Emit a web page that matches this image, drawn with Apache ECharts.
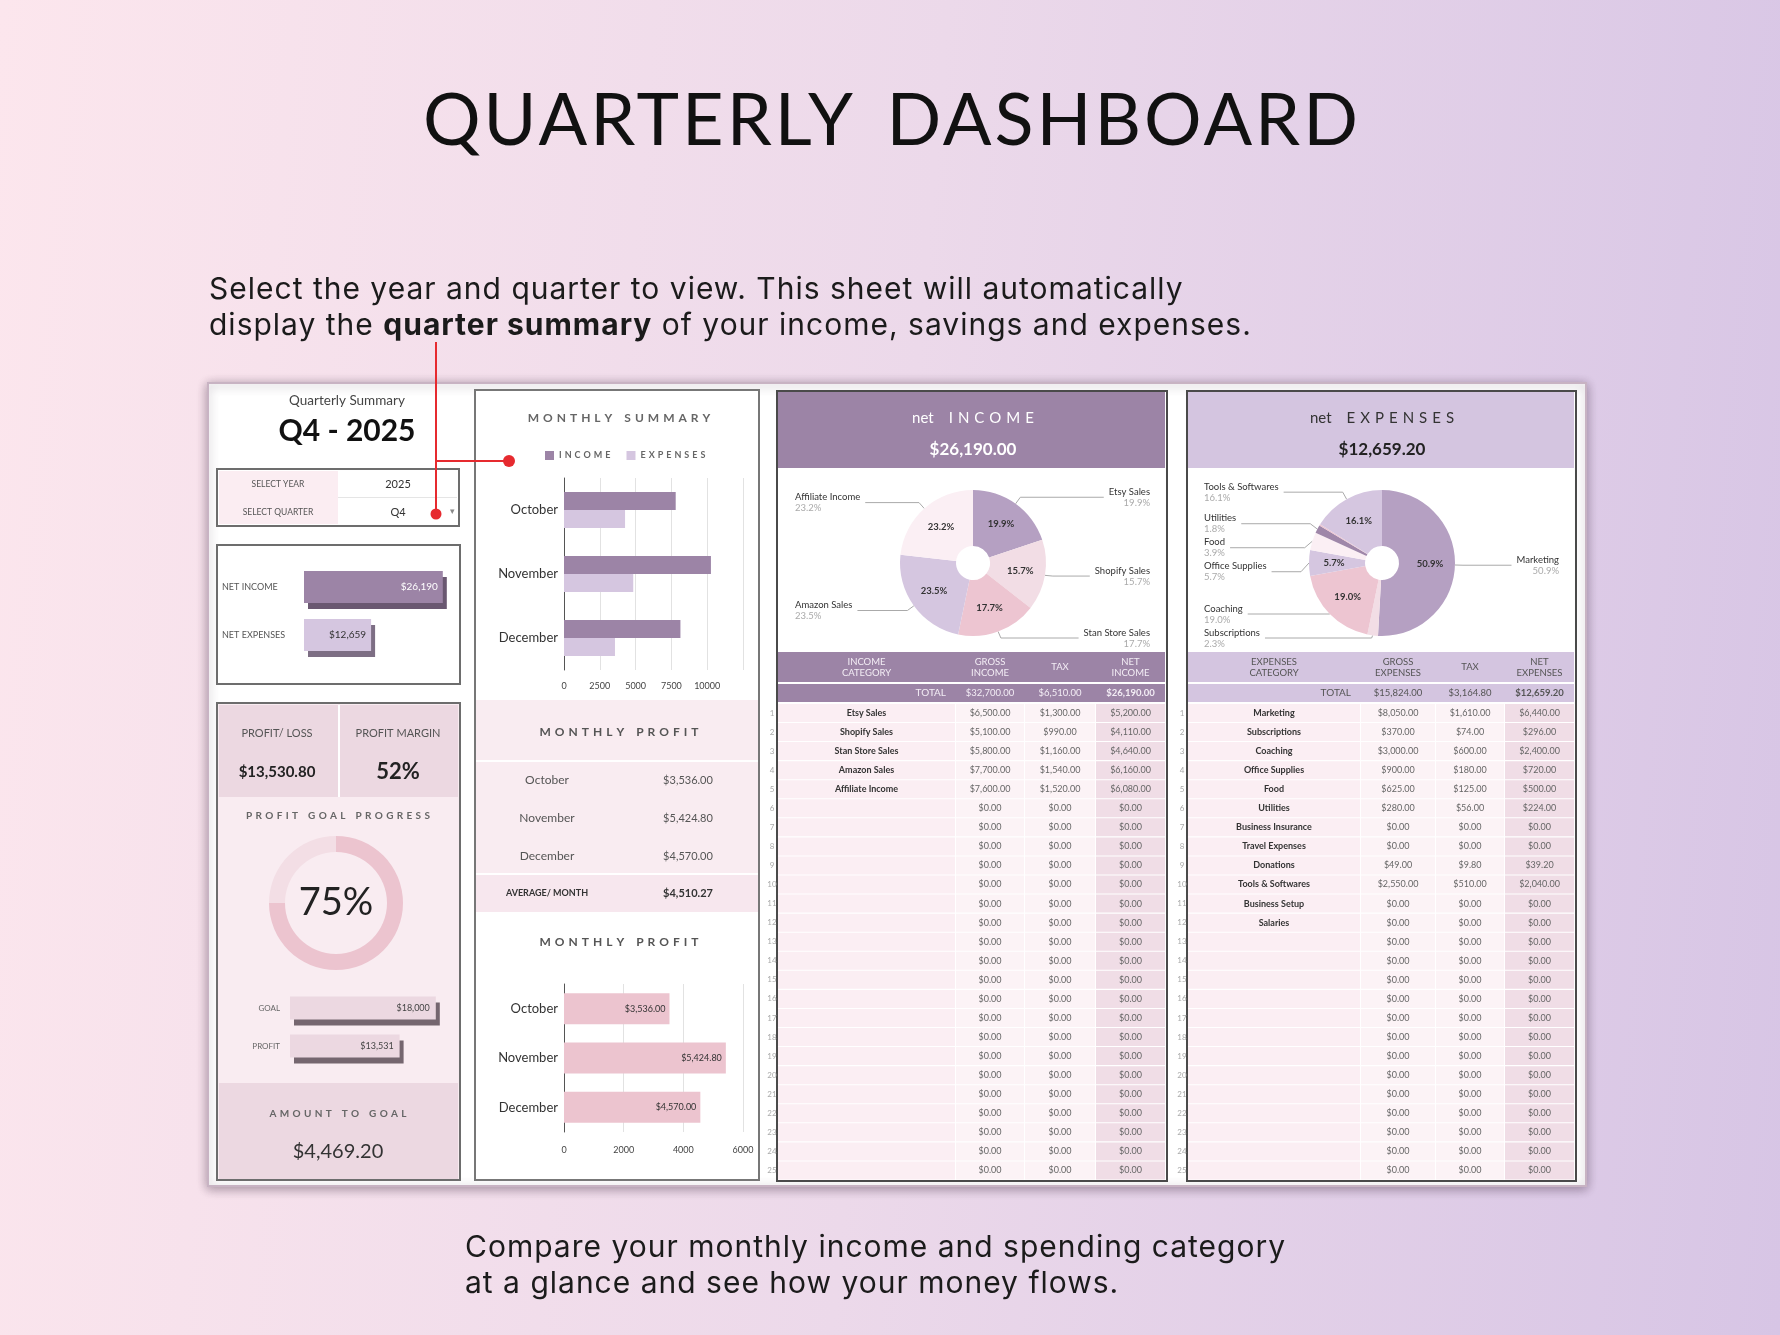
<!DOCTYPE html>
<html>
<head>
<meta charset="utf-8">
<title>Quarterly Dashboard</title>
<script src="https://cdn.jsdelivr.net/npm/echarts@6/dist/echarts.min.js"></script>
<style>
  html, body { margin: 0; padding: 0; }
  body {
    width: 1780px; height: 1335px; overflow: hidden; position: relative;
    background: linear-gradient(95deg, #fce6ed 0%, #ecd9ea 50%, #d7c5e5 100%);
  }
  #chart { position: absolute; left: 0; top: 0; width: 1780px; height: 1335px; }
  .title {
    position: absolute; left: 0; width: 1784px; top: 81px; text-align: center;
    font: 400 72px/72px Lato; letter-spacing: 3px; word-spacing: 12px; color: #111;
  }
  .cap { position: absolute; font: 400 30px/36px Inter; letter-spacing: 1px; color: #1b1b1b; white-space: nowrap; }
  .cap b { font-weight: 700; }
</style>
</head>
<body>
<div id="chart"></div>
<div class="title">QUARTERLY DASHBOARD</div>
<div class="cap" style="left:209px; top:270px">Select the year and quarter to view. This sheet will automatically<br>display the <b>quarter summary</b> of your income, savings and expenses.</div>
<div class="cap" style="left:465px; top:1228px">Compare your monthly income and spending category<br>at a glance and see how your money flows.</div>

<script>
// ---- data ----
var months = ['October', 'November', 'December'];
var monthlyIncome = [7800, 10260, 8130];
var monthlyExpenses = [4264, 4835.2, 3560];
var monthlyProfit = [3536, 5424.8, 4570];

var netLabels = ['NET INCOME', 'NET EXPENSES'];
var netValues = [26190, 12659.2];

var goalLabels = ['GOAL', 'PROFIT'];
var goalValues = [18000, 13530.8];
var goalProgress = [75, 25];
var profitMargin = '52%';
var amountToGoal = 4469.2;

var incomeCategories = ['Etsy Sales', 'Shopify Sales', 'Stan Store Sales', 'Amazon Sales', 'Affiliate Income'];
var incomeGross = [6500, 5100, 5800, 7700, 7600];
var incomeTax = [1300, 990, 1160, 1540, 1520];
var incomeNet = [5200, 4110, 4640, 6160, 6080];

var expenseCategories = ['Marketing', 'Subscriptions', 'Coaching', 'Office Supplies', 'Food', 'Utilities',
  'Business Insurance', 'Travel Expenses', 'Donations', 'Tools & Softwares', 'Business Setup', 'Salaries'];
var expenseGross = [8050, 370, 3000, 900, 625, 280, 0, 0, 49, 2550, 0, 0];
var expenseTax = [1610, 74, 600, 180, 125, 56, 0, 0, 9.8, 510, 0, 0];
var expenseNet = [6440, 296, 2400, 720, 500, 224, 0, 0, 39.2, 2040, 0, 0];

var tableRows = 25;
var pieColors = ['#b5a0c2', '#f2dde5', '#edc5d1', '#d5c6e0', '#fbeff4', '#9f87a9'];

// ---- helpers ----
function money(v) {
  return '$' + v.toLocaleString('en-US', { minimumFractionDigits: 2, maximumFractionDigits: 2 });
}
function money0(v) {
  return '$' + Math.round(v).toLocaleString('en-US');
}
function sum(a) {
  return a.reduce(function (s, v) { return s + v; }, 0);
}
function spaced(s) {
  return s.split(' ').map(function (w) { return w.split('').join('\u2004'); }).join('\u2004\u2004\u2004');
}

var els = [];
function rect(x, y, w, h, fill, extra) {
  var st = Object.assign({ fill: fill }, extra || {});
  els.push({ type: 'rect', silent: true, shape: { x: x, y: y, width: w, height: h }, style: st });
}
function text(x, y, str, size, color, o) {
  o = o || {};
  var al = o.align || 'center';
  els.push({
    type: 'text', x: x, y: y, z2: 10, silent: true,
    style: {
      text: str, fill: color,
      font: (o.weight || 'normal') + ' ' + size + 'px ' + (o.family || 'Lato'),
      align: al, textAlign: al, verticalAlign: 'middle', textVerticalAlign: 'middle',
      lineHeight: o.lh
    }
  });
}

// ---- sheet background ----
rect(208, 383, 1378, 803, '#fff', { stroke: '#c8b3c3', lineWidth: 2, shadowBlur: 10, shadowColor: 'rgba(70,50,70,0.45)', shadowOffsetY: 2 });

// ---- left column ----
text(347, 401, 'Quarterly Summary', 13.5, '#444');
text(347, 431, 'Q4 - 2025', 30, '#111', { weight: 'bold' });

rect(217, 469, 242, 57, '#fff', { stroke: '#6d6d6d', lineWidth: 2 });
rect(219, 471, 119, 53, '#fbedf2');
rect(338, 497, 119, 1, '#e5e5e5');
text(278, 484, 'SELECT YEAR', 8.5, '#555');
text(278, 512, 'SELECT QUARTER', 8.5, '#555');
text(398, 484, '2025', 11, '#333');
text(398, 512, 'Q4', 11, '#333');
text(452, 511, '\u25BE', 9, '#888');

rect(217, 545, 243, 139, '#fff', { stroke: '#6d6d6d', lineWidth: 2 });

rect(217, 703, 243, 477, '#f9ecf1', { stroke: '#6d6d6d', lineWidth: 2 });
rect(219, 705, 239, 92, '#ecd8e1');
rect(338, 705, 2, 92, '#fff');
rect(219, 1083, 239, 96, '#ecd8e1');
text(277, 733, 'PROFIT/ LOSS', 11, '#555');
text(277, 772, money(sum(monthlyProfit)), 15, '#222', { weight: 'bold' });
text(398, 733, 'PROFIT MARGIN', 11, '#555');
text(398, 772, profitMargin, 22, '#222', { weight: 'bold' });
text(338, 816, spaced('PROFIT GOAL PROGRESS'), 10, '#666', { weight: 'bold' });
text(336, 903, goalProgress[0] + '%', 38, '#222');
text(338, 1114, spaced('AMOUNT TO GOAL'), 10, '#666', { weight: 'bold' });
text(338, 1152, money(amountToGoal), 20, '#333');

// ---- middle column ----
rect(475, 390, 284, 790, '#fff', { stroke: '#777', lineWidth: 2 });
text(619, 418, spaced('MONTHLY SUMMARY'), 12, '#666', { weight: 'bold' });
rect(476, 700, 282, 60, '#f9ecf1');
rect(476, 762, 282, 111, '#f9ecf1');
rect(476, 875, 282, 37, '#f7e7ee');
text(619, 732, spaced('MONTHLY PROFIT'), 12, '#555', { weight: 'bold' });
months.forEach(function (m, i) {
  text(547, 780 + i * 38, m, 12, '#555');
  text(688, 780 + i * 38, money(monthlyProfit[i]), 11, '#555');
});
text(547, 893, 'AVERAGE/ MONTH', 9, '#333', { weight: 'bold' });
text(688, 893, money(sum(monthlyProfit) / monthlyProfit.length), 11, '#333', { weight: 'bold' });
text(619, 942, spaced('MONTHLY PROFIT'), 12, '#555', { weight: 'bold' });

// ---- tables ----
function table(px, cols, head, headFill, headColor, cats, gross, tax, net) {
  rect(px, 391, cols[3][1] - px + 2, 790, '#fff', { stroke: '#4a4a4a', lineWidth: 2 });
  var w = cols[3][1] - cols[0][0];
  rect(cols[0][0], 392, w, 76, headFill);
  rect(cols[0][0], 652, w, 30, headFill);
  rect(cols[0][0], 684, w, 18, headFill);
  var cx = cols.map(function (c) { return (c[0] + c[1]) / 2; });
  head.forEach(function (h, j) { text(cx[j], 667, h, 9.5, headColor, { lh: 11 }); });
  text(cols[0][1] - 9, 693, 'TOTAL', 10, headColor, { align: 'right' });
  text(cx[1], 693, money(sum(gross)), 9.5, headColor);
  text(cx[2], 693, money(sum(tax)), 9.5, headColor);
  text(cx[3], 693, money(sum(net)), 9.5, headColor, { weight: 'bold' });
  var fills = ['#fbeef3', '#fcf3f6', '#fcf3f6', '#f0dde6'];
  for (var i = 0; i < tableRows; i++) {
    var cy = 713 + i * 19.06;
    cols.forEach(function (c, j) { rect(c[0], cy - 9, c[1] - c[0], 18, fills[j]); });
    text(px - 5, cy, String(i + 1), 8, '#aaa');
    if (i < cats.length) text(cx[0], cy, cats[i], 9, '#333', { weight: 'bold' });
    text(cx[1], cy, money(i < gross.length ? gross[i] : 0), 9, '#666');
    text(cx[2], cy, money(i < tax.length ? tax[i] : 0), 9, '#666');
    text(cx[3], cy, money(i < net.length ? net[i] : 0), 9, '#666');
  }
}
table(777, [[778, 955], [956, 1024], [1025, 1095], [1096, 1165]],
  ['INCOME\nCATEGORY', 'GROSS\nINCOME', 'TAX', 'NET\nINCOME'], '#9c84a6', '#f3edf5',
  incomeCategories, incomeGross, incomeTax, incomeNet);
table(1187, [[1188, 1360], [1361, 1435], [1436, 1504], [1505, 1574]],
  ['EXPENSES\nCATEGORY', 'GROSS\nEXPENSES', 'TAX', 'NET\nEXPENSES'], '#d4c5e0', '#555',
  expenseCategories, expenseGross, expenseTax, expenseNet);

text(973, 418, 'net\u2002\u2002' + spaced('INCOME'), 15, '#fff');
text(973, 450, money(sum(incomeNet)), 17, '#fff', { weight: 'bold' });
text(1382, 418, 'net\u2002\u2002' + spaced('EXPENSES'), 15, '#333');
text(1382, 450, money(sum(expenseNet)), 17, '#222', { weight: 'bold' });

// ---- red annotation ----
els.push({ type: 'line', z2: 20, silent: true, shape: { x1: 436, y1: 342, x2: 436, y2: 514 }, style: { stroke: '#e62a2f', lineWidth: 2 } });
els.push({ type: 'line', z2: 20, silent: true, shape: { x1: 436, y1: 461, x2: 508, y2: 461 }, style: { stroke: '#e62a2f', lineWidth: 2 } });
els.push({ type: 'circle', z2: 20, silent: true, shape: { cx: 436, cy: 514, r: 5.5 }, style: { fill: '#e62a2f' } });
els.push({ type: 'circle', z2: 20, silent: true, shape: { cx: 509, cy: 461, r: 6 }, style: { fill: '#e62a2f' } });

// ---- pies ----
function pieData(cats, vals) {
  var total = sum(vals);
  return cats.map(function (c, i) {
    var show = vals[i] / total > 0.01;
    return {
      name: c, value: vals[i], pct: (vals[i] / total * 100).toFixed(1),
      itemStyle: { color: pieColors[i % pieColors.length] },
      label: { show: show }, labelLine: { show: show }
    };
  });
}
function pieSeries(left, cats, vals) {
  var box = { left: left, top: 470, width: 389, height: 180, center: [195, 93], radius: [17, 73] };
  var outer = Object.assign({
    type: 'pie', silent: true, startAngle: 90, avoidLabelOverlap: true,
    data: pieData(cats, vals),
    label: {
      position: 'outside', alignTo: 'edge', edgeDistance: 17, lineHeight: 11,
      formatter: function (p) { return '{n|' + p.name + '}\n{p|' + p.data.pct + '%}'; },
      rich: { n: { fontSize: 9.5, color: '#333', fontFamily: 'Lato' }, p: { fontSize: 9.5, color: '#aaa', fontFamily: 'Lato' } }
    },
    labelLine: { length: 8, length2: 10, lineStyle: { color: '#aaa', width: 1 } }
  }, box);
  var inner = Object.assign({
    type: 'pie', silent: true, startAngle: 90, z: 3,
    data: pieData(cats, vals).map(function (d) {
      return { name: d.name, value: d.value, pct: d.pct, itemStyle: { color: 'rgba(0,0,0,0)' } };
    }),
    label: {
      position: 'inside', fontSize: 9.5, fontWeight: 'bold', color: '#333', fontFamily: 'Lato',
      formatter: function (p) { return +p.data.pct >= 5 ? p.data.pct + '%' : ''; }
    },
    labelLine: { show: false }
  }, box);
  return [outer, inner];
}

var chart = echarts.init(document.getElementById('chart'));

var option = {
  animation: false,
  textStyle: { fontFamily: 'Lato' },
  graphic: { elements: els },
  legend: {
    data: ['INCOME', 'EXPENSES'], left: 540, top: 446, itemWidth: 9, itemHeight: 9, icon: 'rect',
    itemGap: 16, selectedMode: false, formatter: function (n) { return spaced(n); },
    textStyle: { fontSize: 9, color: '#666', fontWeight: 'bold' }
  },
  grid: [
    { left: 304, top: 563, width: 159, height: 96 },
    { left: 290, top: 989, width: 162, height: 76 },
    { left: 564, top: 478, width: 179, height: 192 },
    { left: 564, top: 984, width: 179, height: 148 }
  ],
  xAxis: [
    { gridIndex: 0, type: 'value', min: 0, max: 30000, show: false },
    { gridIndex: 1, type: 'value', min: 0, max: 20000, show: false },
    {
      gridIndex: 2, type: 'value', min: 0, max: 12500, interval: 2500,
      axisLine: { show: false }, axisTick: { show: false },
      splitLine: { lineStyle: { color: '#e2e2e2' } },
      axisLabel: { fontSize: 9, color: '#444', margin: 12, formatter: function (v) { return v === 12500 ? '' : String(v); } }
    },
    {
      gridIndex: 3, type: 'value', min: 0, max: 6000, interval: 2000,
      axisLine: { show: false }, axisTick: { show: false },
      splitLine: { lineStyle: { color: '#e2e2e2' } },
      axisLabel: { fontSize: 9, color: '#444', margin: 14, formatter: function (v) { return String(v); } }
    }
  ],
  yAxis: [
    {
      gridIndex: 0, type: 'category', data: netLabels, inverse: true,
      axisLine: { show: false }, axisTick: { show: false },
      axisLabel: { align: 'left', margin: 82, fontSize: 9, color: '#555' }
    },
    {
      gridIndex: 1, type: 'category', data: goalLabels, inverse: true,
      axisLine: { show: false }, axisTick: { show: false },
      axisLabel: { margin: 10, fontSize: 8, color: '#666' }
    },
    {
      gridIndex: 2, type: 'category', data: months, inverse: true,
      axisLine: { lineStyle: { color: '#555' } }, axisTick: { show: false },
      axisLabel: { margin: 6, fontSize: 13, color: '#333' }
    },
    {
      gridIndex: 3, type: 'category', data: months, inverse: true,
      axisLine: { lineStyle: { color: '#555' } }, axisTick: { show: false },
      axisLabel: { margin: 6, fontSize: 13, color: '#333' }
    }
  ],
  series: [
    {
      type: 'bar', xAxisIndex: 0, yAxisIndex: 0, barWidth: 32, silent: true,
      data: netValues.map(function (v, i) {
        return {
          value: v,
          itemStyle: { color: i ? '#d5c6e0' : '#9c84a6', shadowColor: i ? '#7d6e84' : '#6a5871', shadowOffsetX: 4, shadowOffsetY: 6 },
          label: { color: i ? '#333' : '#fff' }
        };
      }),
      label: { show: true, position: 'insideRight', distance: 5, fontSize: 10, formatter: function (p) { return money0(p.value); } }
    },
    {
      type: 'bar', xAxisIndex: 1, yAxisIndex: 1, barWidth: 23, silent: true, data: goalValues,
      itemStyle: { color: '#ecd8e1', shadowColor: '#75666f', shadowOffsetX: 4, shadowOffsetY: 6 },
      label: { show: true, position: 'insideRight', distance: 6, fontSize: 9, color: '#444', formatter: function (p) { return money0(p.value); } }
    },
    {
      name: 'INCOME', type: 'bar', xAxisIndex: 2, yAxisIndex: 2, barWidth: 18, barGap: '0%', silent: true,
      data: monthlyIncome, itemStyle: { color: '#9c84a6' }
    },
    {
      name: 'EXPENSES', type: 'bar', xAxisIndex: 2, yAxisIndex: 2, barWidth: 18, barGap: '0%', silent: true,
      data: monthlyExpenses, itemStyle: { color: '#d5c6e0' }
    },
    {
      type: 'bar', xAxisIndex: 3, yAxisIndex: 3, barWidth: 31, silent: true,
      data: monthlyProfit, itemStyle: { color: '#ecc4cf' },
      label: { show: true, position: 'insideRight', distance: 4, fontSize: 9, color: '#333', formatter: function (p) { return money(p.value); } }
    },
    {
      type: 'pie', silent: true, startAngle: 90, center: [336, 903], radius: [51, 67],
      label: { show: false }, labelLine: { show: false },
      data: goalProgress.map(function (v, i) { return { value: v, itemStyle: { color: i ? '#f3dee5' : '#ecc4cf' } }; })
    }
  ].concat(pieSeries(778, incomeCategories, incomeNet), pieSeries(1187, expenseCategories, expenseNet))
};

chart.setOption(option);
</script>
</body>
</html>
